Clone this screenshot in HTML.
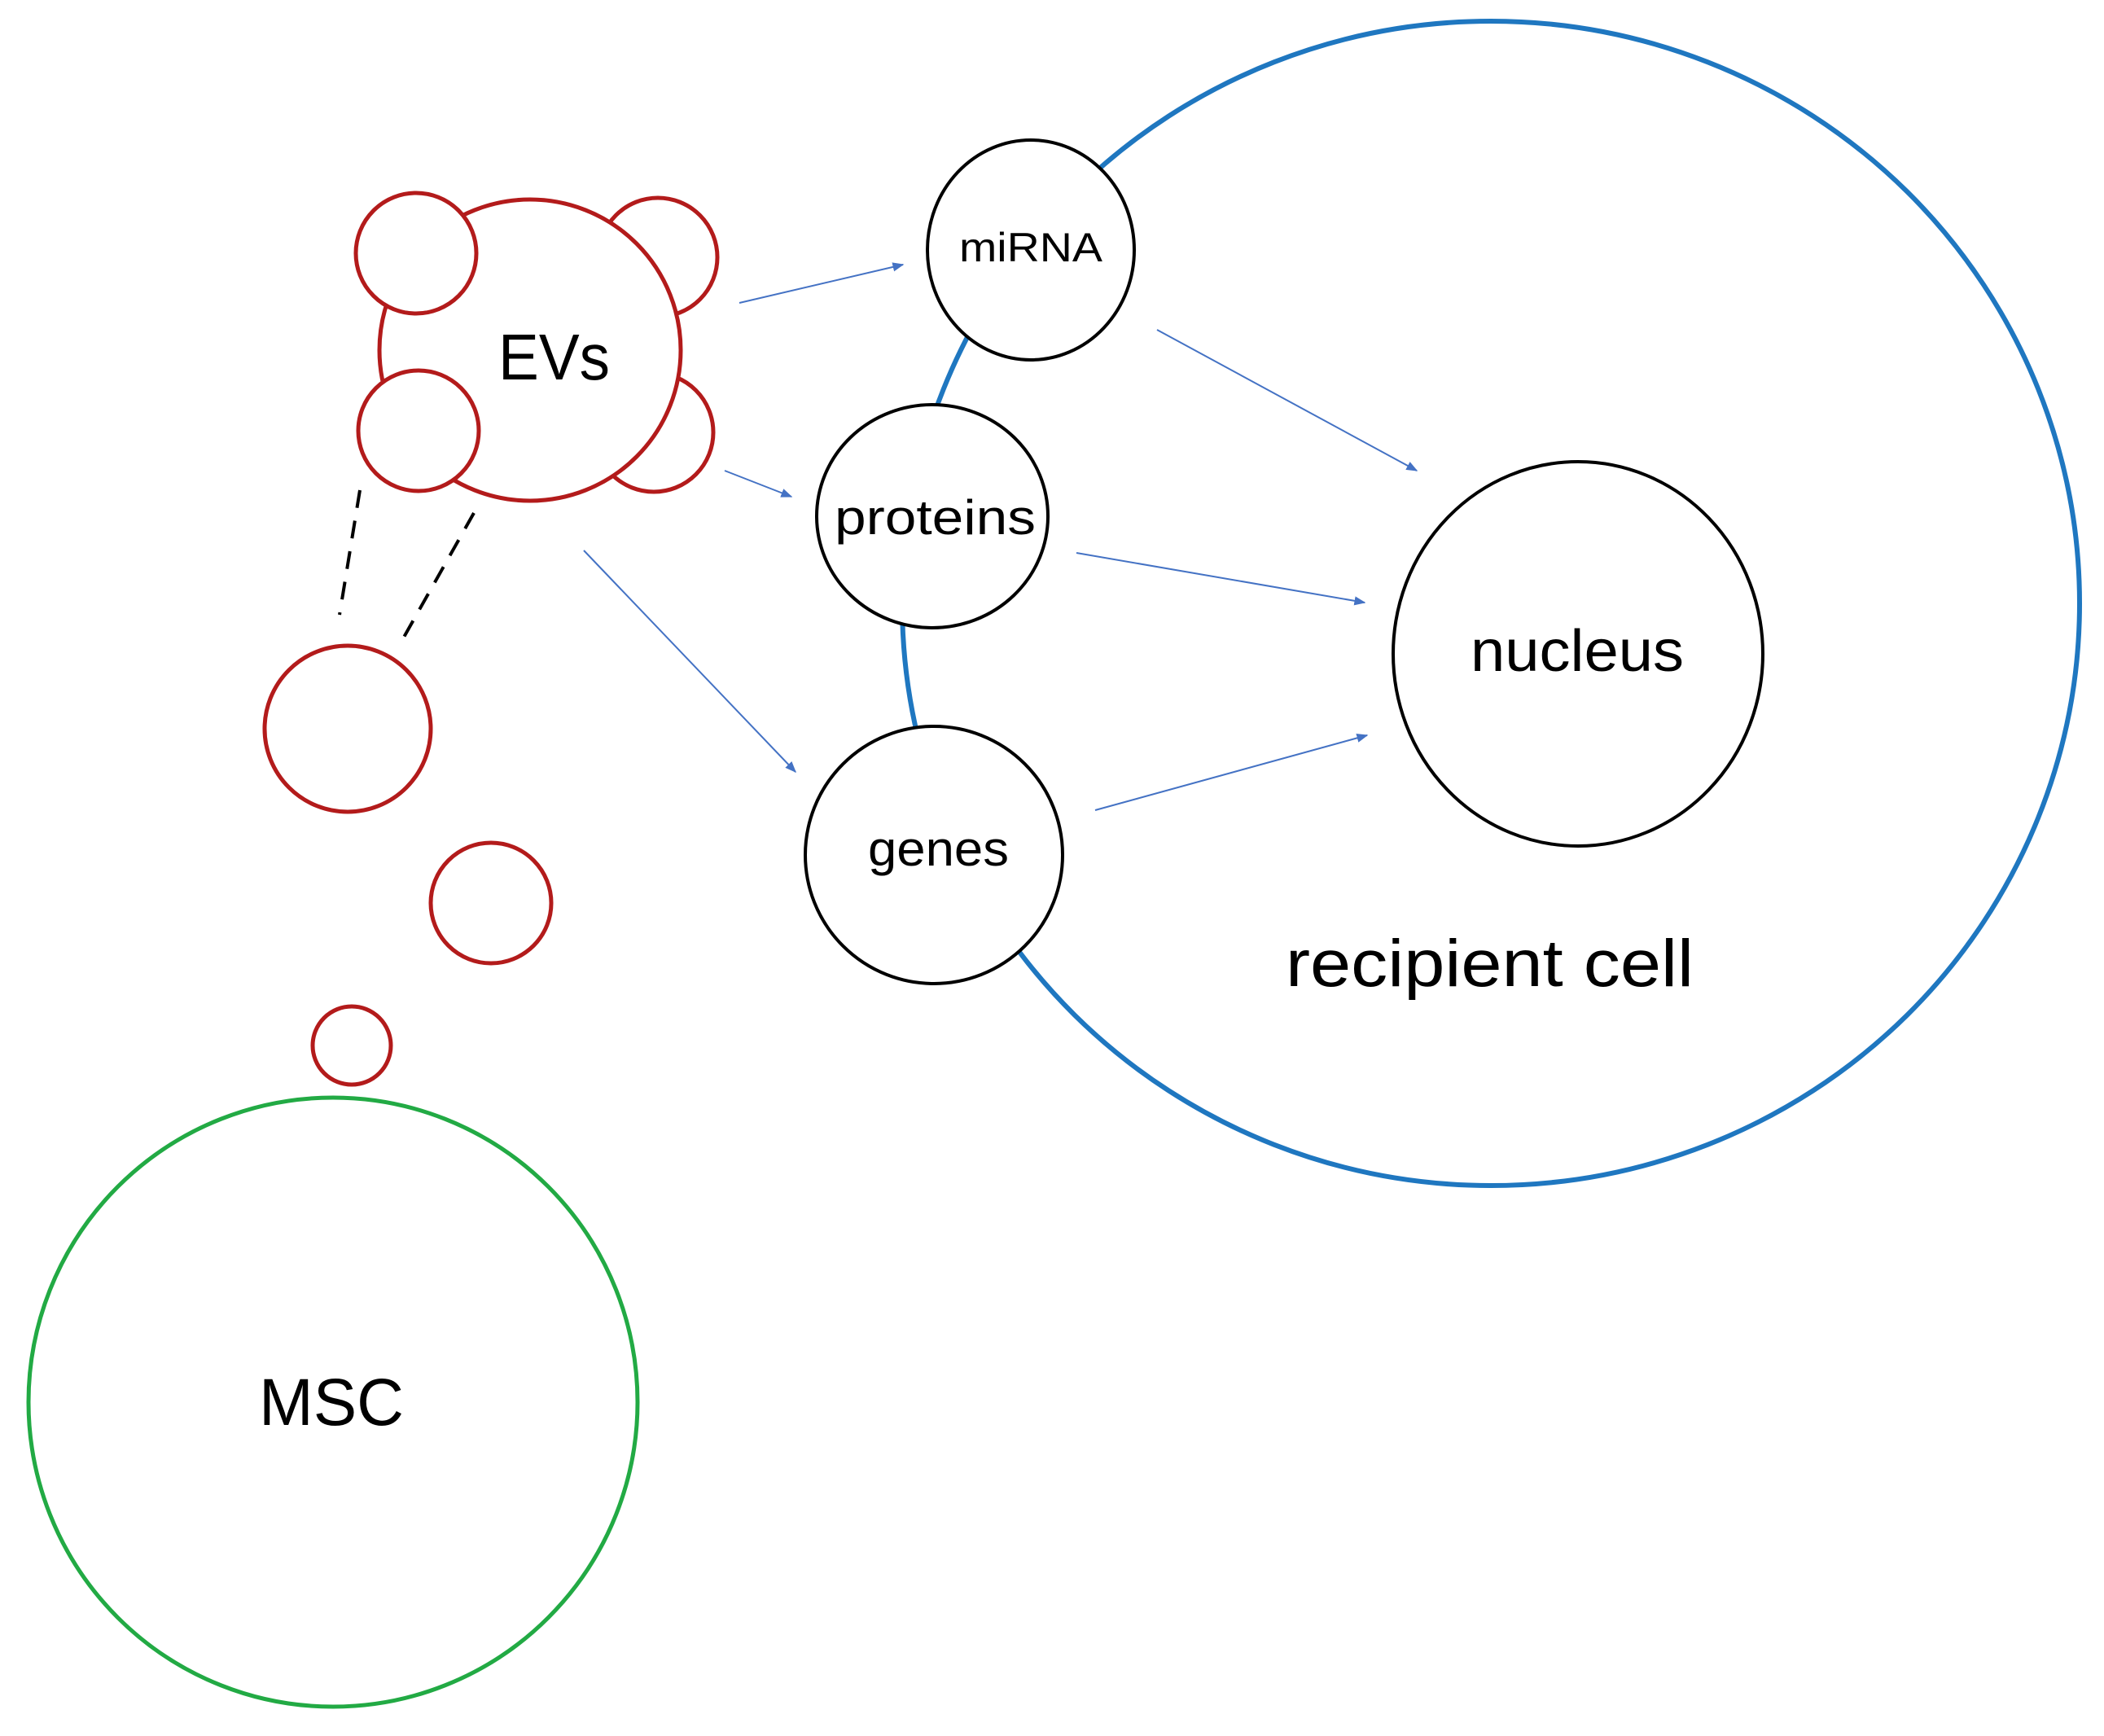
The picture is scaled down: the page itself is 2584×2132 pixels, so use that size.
<!DOCTYPE html>
<html><head><meta charset="utf-8"><style>html,body{margin:0;padding:0;background:#fff}svg{display:block}</style></head>
<body>
<svg width="2584" height="2132" viewBox="0 0 2584 2132" xmlns="http://www.w3.org/2000/svg" font-family="Liberation Sans, sans-serif">
<defs>
<marker id="ah" viewBox="0 0 10 10" refX="9" refY="5" markerWidth="7" markerHeight="7" orient="auto" markerUnits="strokeWidth"><path d="M0,1 L10,5 L0,9 z" fill="#4472c4"/></marker>
</defs>
<rect width="2584" height="2132" fill="#fff"/>
<!-- recipient cell -->
<ellipse cx="1831" cy="741" rx="723" ry="715" fill="none" stroke="#1f77c0" stroke-width="6"/>
<!-- EV cluster -->
<g fill="#fff" stroke="#b31b1b" stroke-width="5">
<circle cx="808" cy="316" r="73"/>
<circle cx="803" cy="531" r="73"/>
<circle cx="651" cy="430" r="185"/>
<circle cx="511" cy="311" r="74"/>
<circle cx="514" cy="529" r="74"/>
<circle cx="427" cy="895" r="102"/>
<circle cx="603" cy="1109" r="74"/>
<circle cx="432" cy="1284" r="48"/>
</g>
<!-- dashed -->
<g stroke="#000" stroke-width="4" stroke-dasharray="22,16">
<line x1="442" y1="602" x2="417" y2="755"/>
<line x1="582" y1="630" x2="494" y2="786"/>
</g>
<!-- MSC -->
<circle cx="409" cy="1722" r="374" fill="none" stroke="#22aa44" stroke-width="5"/>
<!-- nodes -->
<g fill="#fff" stroke="#000" stroke-width="4">
<ellipse cx="1266" cy="307" rx="127" ry="135"/>
<ellipse cx="1145" cy="634" rx="142" ry="137"/>
<circle cx="1147" cy="1050" r="158"/>
<ellipse cx="1938" cy="803" rx="227" ry="236"/>
</g>
<!-- arrows -->
<g stroke="#4472c4" stroke-width="2" marker-end="url(#ah)">
<line x1="908" y1="372" x2="1109" y2="325"/>
<line x1="890" y1="578" x2="972" y2="610"/>
<line x1="717" y1="676" x2="977" y2="948"/>
<line x1="1421" y1="405" x2="1740" y2="578"/>
<line x1="1322" y1="679" x2="1676" y2="740"/>
<line x1="1345" y1="995" x2="1679" y2="903"/>
</g>
<!-- text -->
<g fill="#000">
<text x="612" y="466" font-size="80" textLength="137" lengthAdjust="spacingAndGlyphs">EVs</text>
<text x="1178" y="321" font-size="50" textLength="176" lengthAdjust="spacingAndGlyphs">miRNA</text>
<text x="1025" y="656" font-size="60" textLength="247" lengthAdjust="spacingAndGlyphs">proteins</text>
<text x="1066" y="1063" font-size="60" textLength="173" lengthAdjust="spacingAndGlyphs">genes</text>
<text x="1806" y="824" font-size="72" textLength="262" lengthAdjust="spacingAndGlyphs">nucleus</text>
<text x="1579" y="1211" font-size="82" textLength="501" lengthAdjust="spacingAndGlyphs">recipient cell</text>
<text x="318" y="1750" font-size="82" textLength="178" lengthAdjust="spacingAndGlyphs">MSC</text>
</g>
</svg>
</body></html>
